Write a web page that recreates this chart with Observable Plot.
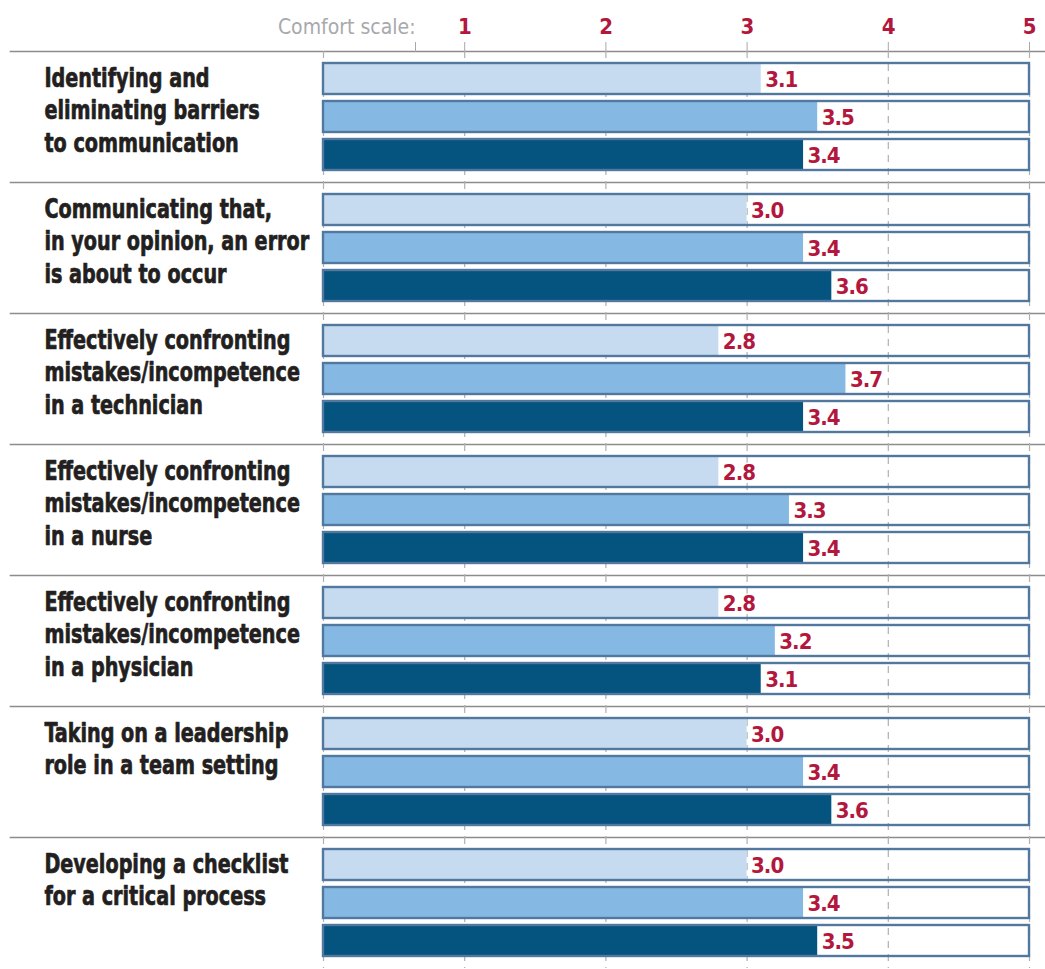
<!DOCTYPE html>
<html>
<head>
<meta charset="utf-8">
<script src="https://cdn.jsdelivr.net/npm/d3@7"></script>
<script src="https://cdn.jsdelivr.net/npm/@observablehq/plot@0.6"></script>
<style>
  html, body { margin: 0; padding: 0; background: #fff; }
  #chart { width: 1045px; height: 969px; overflow: hidden; }
  .valueLabel text { letter-spacing: -1px; }
  .tickLabels text { letter-spacing: -0.5px; }
</style>
</head>
<body>
<div id="chart"></div>
<script>
const groups = [
  "Identifying and\neliminating barriers\nto communication",
  "Communicating that,\nin your opinion, an error\nis about to occur",
  "Effectively confronting\nmistakes/incompetence\nin a technician",
  "Effectively confronting\nmistakes/incompetence\nin a nurse",
  "Effectively confronting\nmistakes/incompetence\nin a physician",
  "Taking on a leadership\nrole in a team setting",
  "Developing a checklist\nfor a critical process"
];
const series = ["light", "medium", "dark"];
const seriesColors = ["#c6dbf0", "#85b9e3", "#04547f"];
const lightValues  = [3.1, 3.0, 2.8, 2.8, 2.8, 3.0, 3.0];
const mediumValues = [3.5, 3.4, 3.7, 3.3, 3.2, 3.4, 3.4];
const darkValues   = [3.4, 3.6, 3.4, 3.4, 3.1, 3.6, 3.5];
const scaleTicks = [1, 2, 3, 4, 5];
const gridTicks = [0, 1, 2, 3, 4, 5];
const scaleMax = 5;
const scaleTitle = "Comfort scale:";

const valuesBySeries = [lightValues, mediumValues, darkValues];
const rows = [];
groups.forEach((g, i) => {
  series.forEach((s, j) => rows.push({group: g, series: s, value: valuesBySeries[j][i]}));
});

const FONT = "'Liberation Sans Narrow', 'DejaVu Sans Condensed', 'Roboto', sans-serif";
const RED = "#b3173d";
const LABEL_X = 44;
const LABEL_SQUEEZE = 0.79;

const chart = Plot.plot({
  width: 1045,
  height: 969,
  marginTop: 50,
  marginBottom: 0,
  marginLeft: 323,
  marginRight: 16,
  style: {fontFamily: FONT, background: "white"},
  x: {domain: [0, scaleMax], axis: null, label: null},
  y: {domain: series, axis: null, paddingInner: 0.18, paddingOuter: 0.27},
  fy: {domain: groups, axis: null, padding: 0},
  color: {domain: series, range: seriesColors},
  marks: [
    Plot.frame({anchor: "top", stroke: "#8c8c8c", strokeWidth: 1.6, insetLeft: -313, insetRight: -16}),
    Plot.barX(rows, {x1: 0, x2: scaleMax, y: "series", fy: "group", fill: "white"}),
    Plot.ruleX(gridTicks, {stroke: "#b0b0b0", strokeWidth: 1.2, strokeDasharray: "7,6"}),
    Plot.barX(rows, {x1: 0, x2: "value", y: "series", fy: "group", fill: "series"}),
    Plot.barX(rows, {x1: 0, x2: scaleMax, y: "series", fy: "group", fill: "none", stroke: "#52789f", strokeWidth: 2.4}),
    Plot.text(rows, {
      x: "value", y: "series", fy: "group",
      text: d => d.value.toFixed(1),
      textAnchor: "start", dx: 4, dy: 1,
      fill: RED, fontWeight: "bold", fontSize: 22,
      stroke: "white", strokeWidth: 3, paintOrder: "stroke",
      className: "valueLabel"
    }),
    Plot.text(groups, {
      fy: d => d, text: d => d,
      frameAnchor: "top-left", dx: LABEL_X - 323, dy: 13,
      lineAnchor: "top", lineHeight: 1.19,
      fontSize: 27, fontWeight: "bold", fill: "#231f20",
      stroke: "#231f20", strokeWidth: 0.7,
      className: "groupLabel"
    }),
    Plot.axisX(scaleTicks, {
      anchor: "top", tickSize: 10, tickPadding: 8, label: null,
      tickFormat: d3.format("d"),
      stroke: "#a8a8a8", fill: RED, fontSize: 22, fontWeight: "bold",
      className: "tickLabels"
    }),
    Plot.axisX([0], {
      anchor: "top", tickSize: 10, tickPadding: 8, stroke: "#a8a8a8", label: null,
      tickFormat: () => scaleTitle, textAnchor: "end", dx: 92,
      fill: "#a7a9ac", fontSize: 21
    })
  ]
});

// horizontal offset accumulated by the ancestors of an element (translate only)
function ancestorOffsetX(el) {
  let x = 0;
  let p = el.parentNode;
  while (p && p !== chart && p.getAttribute) {
    const t = p.getAttribute("transform");
    if (t) {
      const m = /translate\(\s*([-\d.eE]+)/.exec(t);
      if (m) x += +m[1];
    }
    p = p.parentNode;
  }
  return x;
}

// condense each group label horizontally around its left edge
d3.select(chart).selectAll("g.groupLabel").each(function () {
  if (this.parentNode.closest && this.parentNode.closest("g.groupLabel")) return;
  const g = d3.select(this);
  const t = g.attr("transform") || "";
  const ox = LABEL_X - ancestorOffsetX(this);
  g.attr("transform", `translate(${ox},0) scale(${LABEL_SQUEEZE},1) translate(${-ox},0) ${t}`);
});

document.getElementById("chart").appendChild(chart);
</script>
</body>
</html>
